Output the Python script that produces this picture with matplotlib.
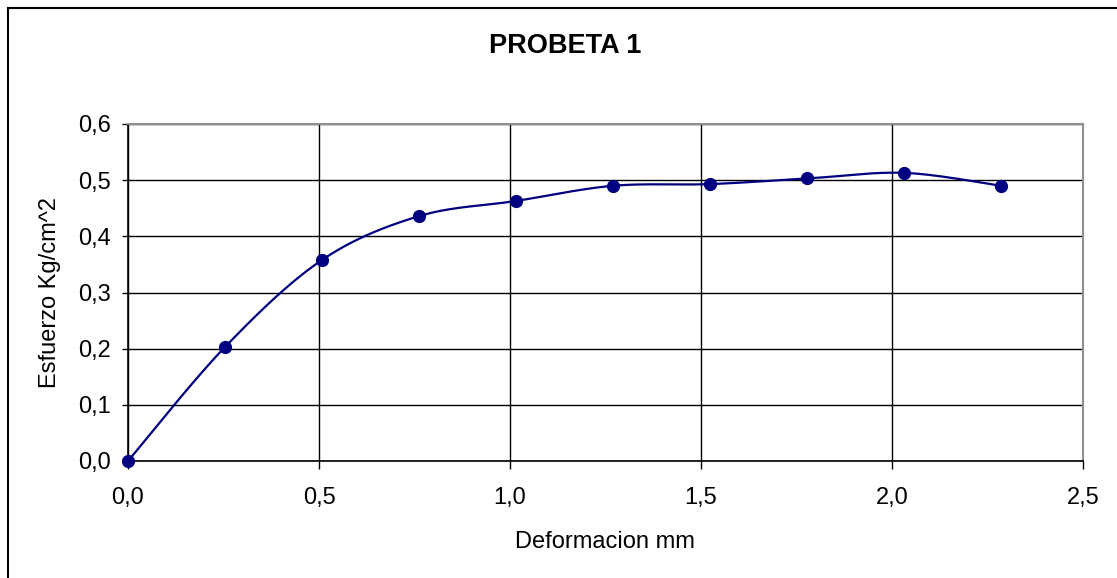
import matplotlib.pyplot as plt
import numpy as np
from matplotlib.lines import Line2D
from matplotlib.ticker import FuncFormatter

plt.rcParams['font.family'] = ['Liberation Sans', 'DejaVu Sans']

# deformation (mm) and stress (kg/cm^2)
deformacion = [0.0, 0.254, 0.508, 0.762, 1.016, 1.270, 1.524, 1.778, 2.032, 2.286]
esfuerzo = [0.0, 0.203, 0.358, 0.436, 0.463, 0.490, 0.493, 0.503, 0.513, 0.490]

x_ticks = [0.0, 0.5, 1.0, 1.5, 2.0, 2.5]
y_ticks = [0.0, 0.1, 0.2, 0.3, 0.4, 0.5, 0.6]

W, H = 1117, 578


def smooth(xs, ys, n=30):
    # Excel-like smoothed line (Catmull-Rom style Bezier)
    p = np.column_stack([xs, ys])
    out = []
    for i in range(len(p) - 1):
        p0 = p[i - 1] if i > 0 else p[i]
        p1 = p[i]
        p2 = p[i + 1]
        p3 = p[i + 2] if i + 2 < len(p) else p[i + 1]
        c1 = p1 + (p2 - p0) / 6
        c2 = p2 - (p3 - p1) / 6
        t = np.linspace(0, 1, n)[:, None]
        seg = ((1 - t) ** 3) * p1 + 3 * ((1 - t) ** 2) * t * c1 + 3 * (1 - t) * t ** 2 * c2 + t ** 3 * p2
        out.append(seg if i == 0 else seg[1:])
    seg = np.vstack(out)
    return seg[:, 0], seg[:, 1]


def comma(v, pos):
    return f'{v:.1f}'.replace('.', ',')


fig = plt.figure(figsize=(W / 100, H / 100), dpi=100)
ax = fig.add_axes([128 / W, 1 - 461 / H, (1083 - 128) / W, (461 - 124) / H])

sx, sy = smooth(deformacion, esfuerzo)
ax.plot(sx, sy, color='#000080', lw=1.6, zorder=3, clip_on=False)
ax.plot(deformacion, esfuerzo, 'o', color='#000080', ms=8.5, zorder=4, clip_on=False)

ax.set_xlim(0, 2.5)
ax.set_ylim(0, 0.6)
ax.set_xticks(x_ticks)
ax.set_yticks(y_ticks)
ax.xaxis.set_major_formatter(FuncFormatter(comma))
ax.yaxis.set_major_formatter(FuncFormatter(comma))
ax.grid(True, color='black', lw=1.0)
ax.set_axisbelow(True)
ax.tick_params(axis='x', direction='out', length=6, width=1, labelsize=17, pad=13)
ax.tick_params(axis='y', direction='out', length=4.5, width=1, labelsize=17, pad=8)

for s in ['top', 'right']:
    ax.spines[s].set_color('#909090')
    ax.spines[s].set_linewidth(1.5)
for s in ['left', 'bottom']:
    ax.spines[s].set_color('black')
    ax.spines[s].set_linewidth(1.2)

fig.text(605 / W, 1 - 542 / H, 'Deformacion mm', fontsize=17, ha='center', va='center')
fig.text(50 / W, 1 - 292 / H, 'Esfuerzo Kg/cm^2', fontsize=17, rotation=90, ha='center', va='center')
fig.text(565 / W, 1 - 46 / H, 'PROBETA 1', fontsize=19.5, fontweight='bold', ha='center', va='center')

# outer chart border (only top and left visible in the crop)
fig.add_artist(Line2D([8 / W, 8 / W], [0, 1 - 8 / H], transform=fig.transFigure, color='black', lw=1.5))
fig.add_artist(Line2D([8 / W, 1], [1 - 8 / H, 1 - 8 / H], transform=fig.transFigure, color='black', lw=1.5))

fig.savefig('out.png', dpi=100)
